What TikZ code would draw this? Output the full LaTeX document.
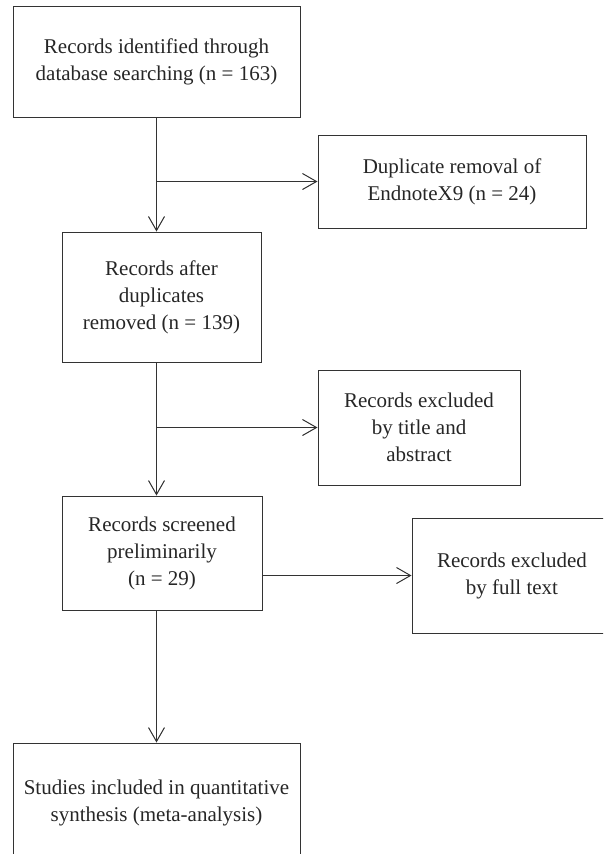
\documentclass[tikz,border=0pt]{standalone}
\usepackage{fontspec}
\setmainfont{Liberation Serif}
\usetikzlibrary{shapes, arrows.meta, positioning}
\tikzstyle{box} = [rectangle, draw=black!80, line width=1pt, text=black!85, text centered]
\tikzstyle{line} = [draw=black!80, line width=1pt, -{Straight Barb[length=14pt, width=16pt, line width=1pt]}]

\begin{document}
\begin{tikzpicture}[x=1pt, y=-1pt, align=center, font=\fontsize{21}{27}\selectfont]
    \useasboundingbox (0,0) rectangle (603,854);
    \clip (0,0) rectangle (603,854);
    \node [box, minimum width=287pt, minimum height=111pt] (identified) at (156.5,61.5) {Records identified through\\database searching (n = 163)};
    \node [box, minimum width=268pt, minimum height=93pt] (duplicate) at (452,181.5) {Duplicate removal of\\EndnoteX9 (n = 24)};
    \node [box, minimum width=199pt, minimum height=130pt] (after) at (161.5,297) {Records after\\duplicates\\removed (n = 139)};
    \node [box, minimum width=202pt, minimum height=115pt] (bytitle) at (419,427.5) {Records excluded\\by title and\\abstract};
    \node [box, minimum width=200pt, minimum height=114pt] (screened) at (162,553) {Records screened\\preliminarily\\(n = 29)};
    \node [box, minimum width=200pt, minimum height=115pt] (fulltext) at (512,575.5) {Records excluded\\by full text};
    \node [box, minimum width=287pt, minimum height=120pt] (included) at (156.5,803) {Studies included in quantitative\\synthesis (meta-analysis)};

    \path [line] (identified.south) -- (identified.south |- after.north);
    \path [line] (identified.south |- duplicate.west) -- (duplicate.west);
    \path [line] (identified.south |- after.south) -- (identified.south |- screened.north);
    \path [line] (identified.south |- bytitle.west) -- (bytitle.west);
    \path [line] (screened.east |- fulltext.west) -- (fulltext.west);
    \path [line] (included.north |- screened.south) -- (included.north);

\end{tikzpicture}
\end{document}
